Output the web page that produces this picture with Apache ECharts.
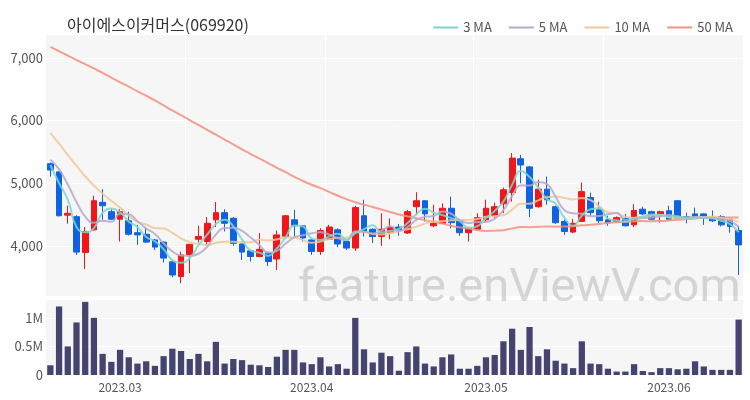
<!DOCTYPE html>
<html><head><meta charset="utf-8">
<script src="https://cdn.jsdelivr.net/npm/echarts@6/dist/echarts.min.js"></script>
<style>html,body{margin:0;padding:0;background:#fff}#c{width:750px;height:400px}</style>
</head><body><div id="c"></div>
<script>
const titleText = '아이에스이커머스(069920)';
const dates = ['2023-02-17','2023-02-20','2023-02-21','2023-02-22','2023-02-23','2023-02-24','2023-02-27','2023-02-28',
'2023-03-02','2023-03-03','2023-03-06','2023-03-07','2023-03-08','2023-03-09','2023-03-10','2023-03-13','2023-03-14','2023-03-15','2023-03-16','2023-03-17','2023-03-20','2023-03-21','2023-03-22','2023-03-23','2023-03-24','2023-03-27','2023-03-28','2023-03-29','2023-03-30','2023-03-31',
'2023-04-03','2023-04-04','2023-04-05','2023-04-06','2023-04-07','2023-04-10','2023-04-11','2023-04-12','2023-04-13','2023-04-14','2023-04-17','2023-04-18','2023-04-19','2023-04-20','2023-04-21','2023-04-24','2023-04-25','2023-04-26','2023-04-27','2023-04-28',
'2023-05-02','2023-05-03','2023-05-04','2023-05-08','2023-05-09','2023-05-10','2023-05-11','2023-05-12','2023-05-15','2023-05-16','2023-05-17','2023-05-18','2023-05-19','2023-05-22','2023-05-23','2023-05-24','2023-05-25','2023-05-26','2023-05-29','2023-05-30','2023-05-31',
'2023-06-01','2023-06-02','2023-06-05','2023-06-07','2023-06-08','2023-06-09','2023-06-12','2023-06-13','2023-06-14'];
const opens = [5310,5180,4490,4465,3895,4255,4695,4545,4425,4400,4210,4185,4095,4060,3745,3510,3855,4105,4070,4415,
4530,4440,4030,3920,3830,3885,3790,4150,4415,4320,4095,3910,4105,4255,4070,3965,4480,4265,4150,4210,
4300,4205,4625,4720,4320,4360,4600,4405,4210,4265,4415,4480,4670,4850,5390,5260,4625,4905,4625,4390,
4220,4390,4770,4575,4415,4390,4440,4335,4585,4545,4510,4560,4720,4465,4510,4510,4450,4465,4425,4245];
const closes = [5210,4480,4520,3900,4230,4720,4640,4425,4545,4185,4175,4060,3980,3805,3535,3855,4025,4150,4360,4530,
4360,4040,3900,3830,3945,3750,4175,4480,4320,4125,3910,4245,4300,4030,3965,4610,4230,4150,4265,4300,
4245,4545,4720,4510,4360,4600,4370,4210,4280,4450,4600,4625,4895,5400,5290,4600,4905,4735,4370,4230,
4360,4865,4530,4400,4370,4450,4320,4565,4510,4425,4545,4425,4435,4435,4465,4460,4400,4335,4310,4015];
const lows = [5105,4470,4355,3855,3630,4245,4415,4415,4070,4165,4015,4045,3935,3735,3500,3405,3565,4055,4015,4300,
4230,4000,3775,3750,3820,3680,3615,4125,4150,4070,3855,3855,4095,3980,3935,3920,4150,4045,4000,4105,
4160,4190,4495,4390,4300,4350,4280,4160,4070,4250,4390,4440,4520,4705,5000,4460,4610,4655,4350,4175,
4200,4380,4480,4360,4320,4380,4310,4300,4490,4415,4370,4415,4425,4360,4450,4335,4380,4310,4210,3535];
const highs = [5330,5190,4640,4490,4300,4800,4905,4585,4585,4545,4335,4300,4110,4070,3765,3910,4030,4320,4460,4700,
4585,4460,4040,3930,4205,3900,4245,4495,4575,4330,4100,4280,4335,4280,4080,4640,4735,4280,4520,4440,
4350,4575,4855,4720,4655,4680,4785,4420,4300,4520,4735,4690,4930,5480,5450,5270,5055,5105,4640,4420,
4430,5010,4850,4705,4480,4470,4510,4665,4625,4560,4560,4640,4730,4530,4610,4515,4565,4490,4450,4310];
const volumes = [170000,1200000,500000,920000,1280000,1000000,370000,230000,440000,310000,
200000,240000,160000,330000,460000,420000,280000,370000,240000,580000,
200000,280000,260000,180000,170000,140000,320000,440000,440000,220000,
190000,310000,150000,190000,110000,1000000,450000,220000,390000,330000,
75000,400000,500000,200000,150000,310000,360000,110000,110000,160000,
310000,350000,590000,810000,440000,840000,330000,450000,250000,200000,
120000,590000,200000,190000,110000,60000,60000,190000,70000,50000,
120000,120000,100000,110000,240000,150000,90000,90000,90000,970000];
// leading moving-average values (history before the first visible day)
const ma3Lead = [5290, 5000];
const ma5Lead = [5372, 5220, 4980, 4700];
const ma10Lead = [5800, 5630, 5450, 5280, 5110, 4960, 4830, 4720, 4610];
const ma50Lead = [7175,7105,7035,6965,6900,6830,6760,6685,6610,6540,6465,6395,6320,6240,6160,6085,6005,5930,5850,5775,
5695,5620,5540,5465,5390,5320,5245,5175,5100,5035,4975,4920,4860,4800,4745,4695,4655,4620,4580,4540,
4500,4470,4440,4410,4385,4355,4320,4295,4275];
const legendNames = ['3 MA','5 MA','10 MA','50 MA'];

function movingAvg(n, lead) {
  return closes.map((c, i) => {
    if (i < lead.length) return lead[i];
    let s = 0;
    for (let k = i - n + 1; k <= i; k++) s += closes[k];
    return Math.round(s / n);
  });
}
const vLineTicks = [16, 32, 49, 64];
const UP = '#f2161b', DOWN = '#0f62e2';

const chart = echarts.init(document.getElementById('c'), null, {renderer: 'canvas'});
const font = "'Noto Sans CJK KR', 'Noto Sans', sans-serif";
chart.setOption({
  animation: false,
  textStyle: {fontFamily: font},
  title: {text: titleText, left: 62, top: 12, textStyle: {fontSize: 16, fontWeight: 'normal', color: '#333', fontFamily: font}},
  legend: {data: legendNames, top: 16, right: 12, icon: 'rect', itemWidth: 25, itemHeight: 2, itemGap: 17,
    textStyle: {color: '#555', fontSize: 13, fontFamily: font}},
  grid: [
    {left: 46, right: 7, top: 34, height: 262, show: true, backgroundColor: '#f6f6f6', borderWidth: 0},
    {left: 46, right: 7, top: 299, height: 76, show: true, backgroundColor: '#f6f6f6', borderWidth: 0}
  ],
  xAxis: [
    {type: 'category', gridIndex: 0, data: dates, boundaryGap: true,
      axisLine: {show: false}, axisTick: {show: false}, axisLabel: {show: false},
      splitLine: {show: true, interval: (i) => vLineTicks.includes(i), lineStyle: {color: '#ffffff', width: 1}}},
    {type: 'category', gridIndex: 1, data: dates, boundaryGap: true,
      axisLine: {show: false}, axisTick: {show: false}, splitLine: {show: false},
      axisLabel: {interval: (i, v) => i > 0 && v.slice(0, 7) !== dates[i - 1].slice(0, 7),
        formatter: v => v.slice(0, 4) + '.' + v.slice(5, 7), color: '#555', fontSize: 12, margin: 6}}
  ],
  yAxis: [
    {type: 'value', gridIndex: 0, min: 3200, max: 7380, scale: true,
      axisLine: {show: false}, axisTick: {show: false},
      axisLabel: {showMinLabel: false, showMaxLabel: false, color: '#555', fontSize: 13, margin: 3,
        formatter: v => v.toLocaleString('en-US')},
      splitLine: {lineStyle: {color: '#ffffff', width: 1}}},
    {type: 'value', gridIndex: 1, min: 0, max: 1330000, interval: 500000,
      axisLine: {show: false}, axisTick: {show: false},
      axisLabel: {showMaxLabel: false, color: '#555', fontSize: 13, margin: 3,
        formatter: v => v === 0 ? '0' : (v / 1e6) + 'M'},
      splitLine: {lineStyle: {color: '#ffffff', width: 1}}}
  ],
  graphic: [{type: 'text', left: 298, top: 266, z: 100, silent: true,
    style: {text: 'feature.enViewV.com', font: '47px Roboto, sans-serif', fill: 'rgba(170,170,170,0.45)'}}],
  series: [
    {type: 'candlestick', xAxisIndex: 0, yAxisIndex: 0, barWidth: '72%',
      data: opens.map((o, i) => [o, closes[i], lows[i], highs[i]]),
      itemStyle: {color: UP, color0: DOWN, borderColor: UP, borderColor0: DOWN, borderWidth: 1}},
    {name: '50 MA', type: 'line', xAxisIndex: 0, yAxisIndex: 0, data: movingAvg(50, ma50Lead), smooth: true, showSymbol: false,
      lineStyle: {color: '#f2917f', width: 2, opacity: 0.85}, itemStyle: {color: '#f2917f'}},
    {name: '10 MA', type: 'line', xAxisIndex: 0, yAxisIndex: 0, data: movingAvg(10, ma10Lead), smooth: true, showSymbol: false,
      lineStyle: {color: '#f0c896', width: 2, opacity: 0.85}, itemStyle: {color: '#f0c896'}},
    {name: '5 MA', type: 'line', xAxisIndex: 0, yAxisIndex: 0, data: movingAvg(5, ma5Lead), smooth: true, showSymbol: false,
      lineStyle: {color: '#b7a8cc', width: 2, opacity: 0.85}, itemStyle: {color: '#b7a8cc'}},
    {name: '3 MA', type: 'line', xAxisIndex: 0, yAxisIndex: 0, data: movingAvg(3, ma3Lead), smooth: true, showSymbol: false,
      lineStyle: {color: '#7dd6cb', width: 2, opacity: 0.85}, itemStyle: {color: '#7dd6cb'}},
    {type: 'bar', xAxisIndex: 1, yAxisIndex: 1, data: volumes, barWidth: '72%', itemStyle: {color: '#45446e'}}
  ]
});
</script></body></html>
